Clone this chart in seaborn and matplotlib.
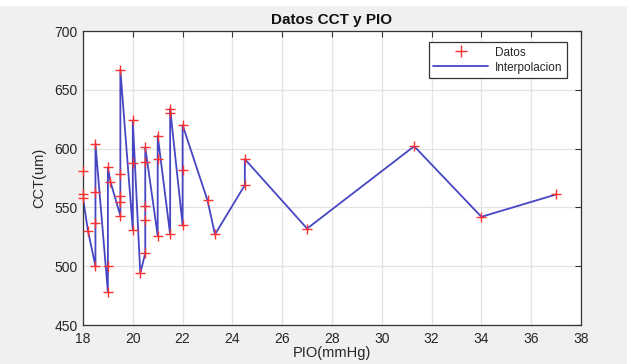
import matplotlib
matplotlib.use("Agg")
import matplotlib.pyplot as plt
import seaborn as sns
import pandas as pd
from matplotlib.lines import Line2D
from matplotlib.patches import Rectangle

# Data (in plotting order)
pio = [18, 18, 18, 18.2, 18.5, 18.5, 18.5, 18.5, 19, 19, 19, 19.1,
       19.5, 19.5, 19.5, 19.5, 19.5, 20, 20, 20, 20.3,
       20.5, 20.5, 20.5, 20.5, 20.5, 21, 21, 21, 21.5, 21.5, 21.5,
       22, 22, 22, 23, 23.3, 24.5, 24.5, 27, 31.3, 34, 37]
cct = [581, 561, 558, 530, 500, 537, 563, 604, 478, 500, 584, 572,
       543, 555, 560, 578, 667, 531, 588, 624, 494,
       511, 539, 551, 589, 601, 526, 591, 611, 527, 630, 634,
       535, 582, 620, 556, 527, 569, 591, 532, 602, 542, 561]

x_ticks = list(range(18, 39, 2))
y_ticks = list(range(450, 701, 50))

title = "Datos CCT y PIO"
x_label = "PIO(mmHg)"
y_label = "CCT(um)"
legend_labels = ["Datos", "Interpolacion"]

df = pd.DataFrame({"PIO": pio, "CCT": cct})

sns.set_style("whitegrid")
plt.rcParams["font.family"] = ["Liberation Sans", "DejaVu Sans"]

fig = plt.figure(figsize=(6.27, 3.64), dpi=100, facecolor="#f0f0f0")
# thin white strip along the top edge, as in the screenshot
fig.patches.append(Rectangle((0, 1 - 6 / 364), 1, 6 / 364, transform=fig.transFigure,
                             facecolor="white", edgecolor="none", zorder=0))
ax = fig.add_axes([83 / 627, 1 - 325 / 364, (581 - 83) / 627, (325 - 31) / 364])
ax.set_facecolor("white")

line_color = "#4646c4"
sns.lineplot(data=df, x="PIO", y="CCT", sort=False, estimator=None,
             color=line_color, linewidth=1.3, ax=ax, zorder=2)
sns.scatterplot(data=df, x="PIO", y="CCT", marker="+", s=55, color="#ff3030",
                linewidth=1.0, ax=ax, zorder=3, clip_on=False)

ax.set_xlim(18, 38)
ax.set_ylim(450, 700)
ax.set_xticks(x_ticks)
ax.set_yticks(y_ticks)
ax.grid(True, color="#e3e3e3", linewidth=0.9)
ax.tick_params(axis="both", direction="in", length=4, width=0.8, color="#333333",
               labelsize=10, labelcolor="#262626", top=True, right=True)
ax.tick_params(axis="x", pad=5)
ax.tick_params(axis="y", pad=4)
for s in ax.spines.values():
    s.set_color("#333333")
    s.set_linewidth(0.9)

ax.set_title(title, fontsize=11, fontweight="bold", color="#111111", pad=5)
ax.set_xlabel(x_label, fontsize=10.5, color="#262626", labelpad=0)
ax.set_ylabel(y_label, fontsize=10.5, color="#262626", labelpad=6)

handles = [
    Line2D([], [], linestyle="none", marker="+", color="#ff3030",
           markersize=8, markeredgewidth=1.0),
    Line2D([], [], color=line_color, linewidth=1.3),
]
leg = ax.legend(handles, legend_labels, loc="upper right",
                bbox_to_anchor=(0.972, 0.963), fontsize=8.5, frameon=True,
                fancybox=False, framealpha=1, edgecolor="#333333",
                handlelength=4.6, handletextpad=0.6, borderpad=0.4,
                labelspacing=0.25, borderaxespad=0)
leg.get_frame().set_linewidth(0.9)

fig.savefig("out.png", dpi=100, facecolor=fig.get_facecolor())
